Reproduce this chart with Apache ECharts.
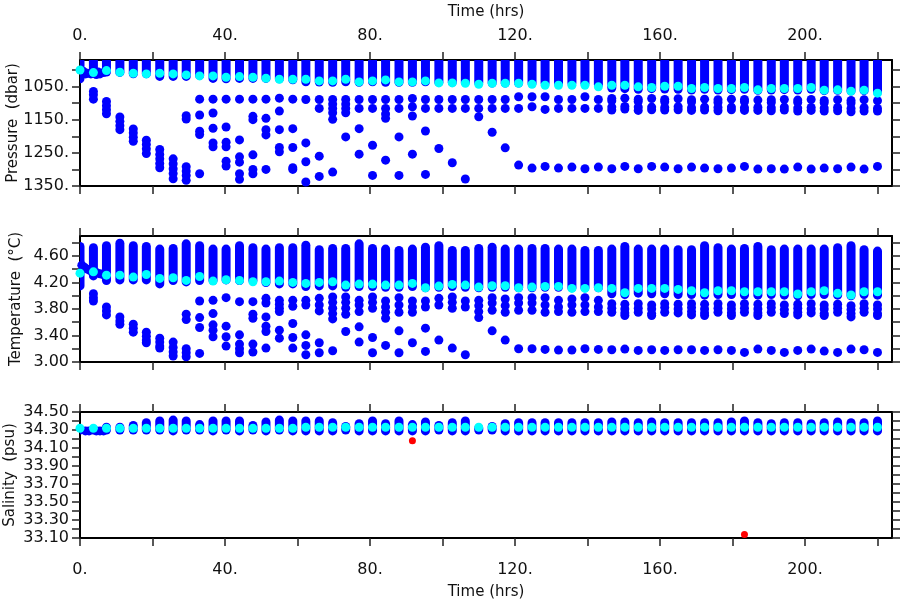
<!DOCTYPE html>
<html><head><meta charset="utf-8">
<script src="https://cdn.jsdelivr.net/npm/echarts@6/dist/echarts.min.js"></script>
<style>html,body{margin:0;padding:0;background:#fff}#c{width:900px;height:600px}</style>
</head><body><div id="c"></div>
<script>
// ---------------- DATA ----------------
const times = [0,3.7,7.3,11,14.7,18.3,22,25.7,29.3,33,36.7,40.3,44,47.7,51.3,55,58.7,
  62.3,66,69.7,73.3,77,80.7,84.3,88,91.7,95.3,99,102.7,106.3,110,113.7,117.3,121,124.7,128.3,132,135.7,139.3,143,
  146.7,150.3,154,157.7,161.3,165,168.7,172.3,176,179.7,183.3,187,190.7,194.3,198,201.7,205.3,209,212.7,216.3,220];

const xTickValues = [0,20,40,60,80,100,120,140,160,180,200,220];
const xLabelValues = [0,40,80,120,160,200];

// Pressure panel
const presTickValues = [1000,1050,1100,1150,1200,1250,1300,1350];
const presLabelValues = [1050,1150,1250,1350];
const presColumnTop = 960;
const presBot = [1040,1020,1020,1021,1025,1025,1033,1033,1033,1030,1039,1040,1039,1039,1039,1040,1043,
  1049,1050,1051,1049,1051,1049,1051,1051,1051,1049,1051,1051,1051,1052,1053,1053,1053,1053,1053,1054,1053,1054,1058,
  1068,1070,1072,1070,1071,1072,1074,1072,1074,1073,1072,1075,1074,1073,1074,1072,1076,1075,1077,1076,1080];
const presMean = [1000,1008,1002,1007,1010,1012,1010,1012,1015,1018,1018,1022,1020,1022,1025,1028,1028,
  1028,1033,1033,1028,1036,1033,1030,1036,1036,1033,1039,1039,1040,1043,1040,1040,1040,1043,1046,1046,1046,1046,1051,
  1046,1046,1051,1053,1049,1049,1056,1053,1056,1056,1053,1060,1056,1056,1056,1053,1061,1060,1064,1061,1070];
const presExtra = [
  [],
  [1065,1075,1088],
  [1095,1108,1120,1132],
  [1142,1155,1168,1180],
  [1178,1190,1203,1215],
  [1212,1225,1238,1252],
  [1240,1255,1268,1282,1295],
  [1268,1283,1298,1312,1328],
  [1138,1148,1292,1305,1318,1333],
  [1088,1136,1185,1195,1313],
  [1088,1130,1176,1220,1232],
  [1088,1172,1218,1232,1275,1290],
  [1088,1211,1262,1278,1313,1330],
  [1088,1140,1150,1256,1300,1313],
  [1088,1146,1180,1196,1300],
  [1085,1124,1180,1234,1247],
  [1088,1177,1234,1295,1300],
  [1089,1220,1277,1338],
  [1089,1116,1260,1321],
  [1089,1103,1116,1129,1149,1308],
  [1089,1103,1116,1129,1202],
  [1089,1116,1177,1254],
  [1089,1116,1227,1318],
  [1089,1116,1133,1146,1272],
  [1089,1116,1202,1318],
  [1086,1111,1139,1254],
  [1089,1116,1184,1315],
  [1089,1116,1237],
  [1089,1116,1280],
  [1089,1116,1329],
  [1089,1116,1141],
  [1089,1116,1188],
  [1089,1116,1235],
  [1081,1116,1287],
  [1081,1111,1296],
  [1081,1119,1291],
  [1089,1116,1296],
  [1089,1116,1293],
  [1081,1116,1298],
  [1089,1116,1293],
  [1086,1093,1112,1121,1298],
  [1085,1110,1118,1291],
  [1088,1095,1112,1122,1298],
  [1086,1112,1120,1291],
  [1089,1096,1113,1121,1293],
  [1087,1111,1120,1298],
  [1090,1097,1114,1122,1293],
  [1088,1112,1121,1296],
  [1090,1098,1113,1123,1298],
  [1088,1112,1120,1296],
  [1089,1096,1114,1122,1291],
  [1091,1113,1122,1299],
  [1090,1098,1114,1123,1298],
  [1089,1112,1121,1299],
  [1091,1098,1115,1124,1293],
  [1089,1113,1122,1299],
  [1092,1099,1115,1124,1296],
  [1090,1113,1123,1298],
  [1092,1100,1116,1126,1293],
  [1090,1114,1124,1299],
  [1093,1116,1124,1291]
];
const presSmear = [[1,1005],[1.5,1012],[2,1010],[3,1012],[4.5,1014],[5,1006],[5.5,1012],[6.5,1008]];

// Temperature panel
const tempTickValues = [3.0,3.2,3.4,3.6,3.8,4.0,4.2,4.4,4.6,4.8];
const tempLabelValues = [3.0,3.4,3.8,4.2,4.6];
const tempTop = [4.81,4.79,4.82,4.86,4.82,4.81,4.77,4.78,4.85,4.82,4.77,4.77,4.82,4.79,4.77,4.79,4.79,
  4.83,4.76,4.78,4.78,4.85,4.78,4.77,4.75,4.77,4.80,4.82,4.75,4.75,4.78,4.80,4.77,4.77,4.78,4.78,4.77,4.77,4.75,4.75,
  4.77,4.81,4.77,4.77,4.77,4.76,4.76,4.82,4.79,4.77,4.78,4.81,4.76,4.77,4.77,4.77,4.77,4.79,4.82,4.76,4.74];
const tempBot = [4.08,4.23,4.16,4.17,4.17,4.17,4.11,4.16,4.14,4.16,4.16,4.17,4.16,4.16,4.13,4.11,4.11,
  4.07,4.08,4.08,4.06,4.07,4.07,4.06,4.06,4.07,4.05,4.06,4.07,4.06,4.05,4.06,4.06,4.05,4.05,4.06,4.06,4.05,4.05,4.05,
  3.96,3.95,3.97,3.96,3.96,3.95,3.95,3.94,3.95,3.95,3.94,3.94,3.95,3.94,3.93,3.95,3.95,3.94,3.93,3.95,3.94];
const tempMean = [4.34,4.36,4.31,4.31,4.28,4.32,4.26,4.27,4.23,4.29,4.22,4.24,4.23,4.21,4.21,4.22,4.20,
  4.185,4.20,4.21,4.16,4.175,4.175,4.16,4.16,4.185,4.12,4.145,4.17,4.16,4.13,4.15,4.15,4.12,4.13,4.14,4.14,4.11,4.11,4.12,
  4.11,4.045,4.11,4.11,4.11,4.095,4.075,4.045,4.075,4.075,4.06,4.06,4.06,4.06,4.025,4.06,4.075,4.035,4.01,4.06,4.06];
const tempExtra = [
  [],
  [4.03,3.97,3.92],
  [3.83,3.77,3.71],
  [3.68,3.62,3.57],
  [3.57,3.51,3.45],
  [3.45,3.39,3.33,3.29],
  [3.36,3.30,3.24,3.21],
  [3.30,3.22,3.15,3.09],
  [3.72,3.64,3.20,3.14,3.08],
  [3.92,3.67,3.52,3.13],
  [3.93,3.73,3.56,3.48,3.38],
  [3.97,3.54,3.38,3.24],
  [3.91,3.41,3.27,3.20,3.14],
  [3.91,3.72,3.66,3.27,3.15],
  [3.96,3.89,3.68,3.54,3.46,3.21],
  [3.93,3.87,3.81,3.76,3.48,3.36],
  [3.93,3.84,3.58,3.37,3.21],
  [3.93,3.86,3.41,3.25,3.11],
  [3.96,3.86,3.77,3.29,3.14],
  [3.98,3.90,3.81,3.73,3.65,3.17],
  [3.98,3.90,3.81,3.72,3.46],
  [3.93,3.86,3.76,3.53,3.30],
  [3.98,3.90,3.81,3.37,3.14],
  [3.92,3.83,3.75,3.66,3.25],
  [3.97,3.86,3.75,3.47,3.14],
  [3.92,3.83,3.75,3.29],
  [3.92,3.83,3.51,3.16],
  [3.96,3.86,3.33],
  [3.98,3.90,3.81,3.21],
  [3.92,3.83,3.11],
  [3.93,3.85,3.76,3.67],
  [3.97,3.89,3.78,3.47],
  [3.95,3.85,3.75,3.33],
  [3.97,3.89,3.78,3.20],
  [3.97,3.89,3.78,3.20],
  [3.97,3.86,3.75,3.19],
  [3.93,3.83,3.76,3.18],
  [3.95,3.86,3.75,3.18],
  [3.97,3.86,3.76,3.20],
  [3.93,3.83,3.76,3.19],
  [3.88,3.81,3.75,3.185],
  [3.87,3.80,3.74,3.70,3.195],
  [3.88,3.81,3.75,3.175],
  [3.86,3.80,3.73,3.70,3.185],
  [3.88,3.82,3.75,3.175],
  [3.87,3.80,3.74,3.185],
  [3.88,3.82,3.76,3.71,3.185],
  [3.87,3.80,3.74,3.70,3.175],
  [3.88,3.81,3.75,3.185],
  [3.86,3.80,3.74,3.70,3.175],
  [3.88,3.81,3.75,3.145],
  [3.87,3.80,3.74,3.70,3.195],
  [3.88,3.82,3.75,3.175],
  [3.86,3.79,3.73,3.145],
  [3.87,3.81,3.75,3.71,3.175],
  [3.88,3.80,3.74,3.195],
  [3.86,3.80,3.73,3.70,3.165],
  [3.87,3.81,3.75,3.145],
  [3.85,3.79,3.73,3.68,3.195],
  [3.88,3.81,3.75,3.185],
  [3.86,3.80,3.73,3.70,3.145]
];
const tempSmear = [[0.5,4.46],[1.2,4.43],[2,4.40],[2.8,4.38],[4.5,4.35],[5.5,4.33],[6.3,4.32]];

// Salinity panel
const salTickValues = [33.1,33.2,33.3,33.4,33.5,33.6,33.7,33.8,33.9,34.0,34.1,34.2,34.3,34.4,34.5];
const salLabelValues = [33.1,33.3,33.5,33.7,33.9,34.1,34.3,34.5];
const salTop = [34.35,34.35,34.38,34.38,34.40,34.43,34.45,34.46,34.45,34.41,34.45,34.45,34.45,34.40,34.44,34.46,34.45,
  34.45,34.45,34.43,34.39,34.42,34.45,34.42,34.45,34.41,34.44,34.40,34.43,34.45,34.37,34.39,34.42,34.43,34.43,34.43,34.43,34.43,34.43,34.43,
  34.44,34.44,34.43,34.44,34.43,34.43,34.43,34.43,34.43,34.44,34.45,34.43,34.42,34.43,34.43,34.42,34.43,34.44,34.43,34.43,34.45];
const salBot = [34.26,34.26,34.25,34.25,34.25,34.25,34.25,34.24,34.25,34.25,34.24,34.25,34.24,34.25,34.24,34.25,34.24,
  34.24,34.24,34.24,34.25,34.24,34.24,34.24,34.24,34.24,34.24,34.25,34.24,34.24,34.25,34.25,34.24,34.24,34.24,34.24,34.24,34.24,34.24,34.24,
  34.24,34.24,34.24,34.24,34.24,34.24,34.24,34.24,34.24,34.24,34.24,34.24,34.24,34.24,34.24,34.24,34.24,34.24,34.24,34.24,34.24];
const salMean = [34.32,34.32,34.32,34.32,34.32,34.32,34.32,34.32,34.32,34.32,34.32,34.32,34.32,34.32,34.32,34.32,34.32,
  34.33,34.33,34.33,34.33,34.33,34.33,34.33,34.33,34.33,34.33,34.33,34.33,34.33,34.33,34.33,34.33,34.33,34.33,34.33,34.33,34.33,34.33,34.33,
  34.33,34.33,34.33,34.33,34.33,34.33,34.33,34.33,34.33,34.33,34.33,34.33,34.33,34.33,34.33,34.33,34.33,34.33,34.33,34.33,34.33];
const salSmear = [[1.5,34.29],[2.5,34.29],[4.5,34.29],[5.5,34.29],[6.5,34.29]];
const salRed = [[91.7,34.18],[183.3,33.14]];

// ---------------- CHART ----------------
const FONT = 'DejaVu Sans';
const BLUE = '#0000ff', CYAN = '#00ffff', RED = '#ff0000';
const chart = echarts.init(document.getElementById('c'), null, {renderer: 'canvas'});

const lineStyle = {color: '#000', width: 2};
const tickStyle = {color: '#222', width: 1.5};
const labelStyle = {fontFamily: FONT, fontSize: 16, color: '#111'};
const nameStyle = {fontFamily: FONT, fontSize: 15, color: '#111'};

function xAxis(g, pos, showLabel) {
  const top = pos === 'top';
  return {
    type: 'value', gridIndex: g, position: pos, min: 0, max: 224,
    axisLine: {show: true, onZero: false, lineStyle: lineStyle},
    axisTick: {show: true, length: 8, lineStyle: tickStyle, customValues: xTickValues},
    axisLabel: {show: showLabel, customValues: xLabelValues, formatter: v => v + '.', margin: top ? 16 : 24, ...labelStyle},
    splitLine: {show: false},
    name: showLabel ? 'Time (hrs)' : '', nameLocation: 'middle', nameGap: top ? 40 : 47,
    nameMoveOverlap: false,
    nameTextStyle: {...nameStyle}
  };
}
function yAxis(g, pos, cfg) {
  const left = pos === 'left';
  return {
    type: 'value', gridIndex: g, position: pos, min: cfg.min, max: cfg.max, inverse: !!cfg.inverse,
    axisLine: {show: true, onZero: false, lineStyle: lineStyle},
    axisTick: {show: true, length: 8, lineStyle: tickStyle, customValues: cfg.ticks},
    axisLabel: {show: left, customValues: cfg.labels, formatter: cfg.fmt, margin: 11, ...labelStyle},
    splitLine: {show: false},
    name: left ? cfg.name : '', nameLocation: 'middle', nameGap: cfg.gap,
    nameMoveOverlap: false,
    nameTextStyle: {...nameStyle}
  };
}

function columnSeries(g, bot, top) {
  return {
    type: 'custom', xAxisIndex: 2*g, yAxisIndex: 2*g, clip: true, silent: true, z: 2,
    data: times.map((t, i) => [t, bot[i], typeof top === 'number' ? top : top[i]]),
    renderItem: function (params, api) {
      const t = api.value(0);
      const p1 = api.coord([t, api.value(1)]);
      const p2 = api.coord([t, api.value(2)]);
      const w = 9;
      const y0 = Math.min(p1[1], p2[1]);
      const h = Math.max(Math.abs(p1[1] - p2[1]), w);
      return {type: 'rect', shape: {x: p1[0] - w/2, y: y0, width: w, height: h, r: w/2}, style: {fill: BLUE}};
    }
  };
}
function dots(g, data, color, size, z) {
  return {type: 'scatter', xAxisIndex: 2*g, yAxisIndex: 2*g, data: data, symbol: 'circle',
    symbolSize: size, itemStyle: {color: color, opacity: 1}, silent: true, z: z};
}
function extraPoints(extra) {
  const out = [];
  extra.forEach((arr, i) => arr.forEach(v => out.push([times[i], v])));
  return out;
}
function meanPoints(mean) { return times.map((t, i) => [t, mean[i]]); }

const gridBase = {left: 80, right: 8, height: 126, containLabel: false, outerBoundsMode: 'none'};
const option = {
  animation: false,
  backgroundColor: '#fff',
  grid: [
    {...gridBase, top: 60},
    {...gridBase, top: 236},
    {...gridBase, top: 412}
  ],
  xAxis: [
    xAxis(0, 'bottom', false), xAxis(0, 'top', true),
    xAxis(1, 'bottom', false), xAxis(1, 'top', false),
    xAxis(2, 'bottom', true), xAxis(2, 'top', false)
  ],
  yAxis: [
    yAxis(0, 'left', {min: 970, max: 1350, inverse: true, ticks: presTickValues, labels: presLabelValues, fmt: v => v + '.', name: 'Pressure  (dbar)', gap: 59}),
    yAxis(0, 'right', {min: 970, max: 1350, inverse: true, ticks: presTickValues, labels: presLabelValues}),
    yAxis(1, 'left', {min: 3.0, max: 4.9, ticks: tempTickValues, labels: tempLabelValues, fmt: v => v.toFixed(2), name: 'Temperature  (\u00B0C)', gap: 56}),
    yAxis(1, 'right', {min: 3.0, max: 4.9, ticks: tempTickValues, labels: tempLabelValues}),
    yAxis(2, 'left', {min: 33.1, max: 34.5, ticks: salTickValues, labels: salLabelValues, fmt: v => v.toFixed(2), name: 'Salinity  (psu)', gap: 62}),
    yAxis(2, 'right', {min: 33.1, max: 34.5, ticks: salTickValues, labels: salLabelValues})
  ],
  series: [
    columnSeries(0, presBot, presColumnTop),
    dots(0, extraPoints(presExtra), BLUE, 9, 3),
    dots(0, presSmear, BLUE, 9, 3),
    dots(0, meanPoints(presMean), CYAN, 9, 5),

    columnSeries(1, tempBot, tempTop),
    dots(1, extraPoints(tempExtra), BLUE, 9, 3),
    dots(1, tempSmear, BLUE, 9, 3),
    dots(1, meanPoints(tempMean), CYAN, 9, 5),

    columnSeries(2, salBot, salTop),
    dots(2, salSmear, BLUE, 9, 3),
    dots(2, meanPoints(salMean), CYAN, 9, 5),
    dots(2, salRed, RED, 7, 6)
  ]
};
chart.setOption(option);
</script>
</body></html>
